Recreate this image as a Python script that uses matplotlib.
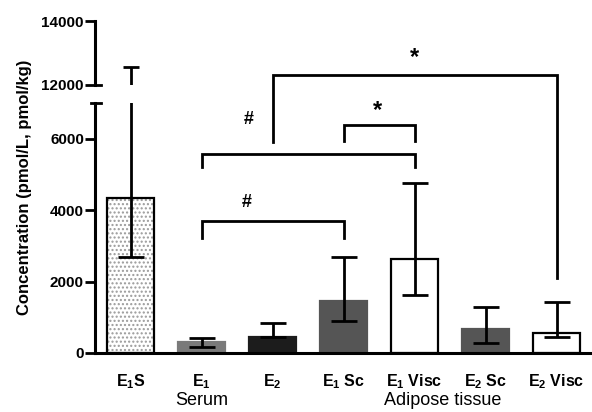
import numpy as np
import matplotlib
matplotlib.use('Agg')
import matplotlib.pyplot as plt

plt.rcParams['font.family'] = ['Liberation Sans', 'DejaVu Sans']
plt.rcParams['mathtext.fontset'] = 'custom'
plt.rcParams['mathtext.rm'] = 'Liberation Sans'
plt.rcParams['mathtext.bf'] = 'Liberation Sans:bold'
plt.rcParams['hatch.linewidth'] = 1.0

# ---- data ----
labels = [r'$\mathbf{E_1}$S', r'$\mathbf{E_1}$', r'$\mathbf{E_2}$', r'$\mathbf{E_1}$ Sc',
          r'$\mathbf{E_1}$ Visc', r'$\mathbf{E_2}$ Sc', r'$\mathbf{E_2}$ Visc']
means = [4350, 310, 450, 1460, 2640, 670, 560]
err_low = [2700, 170, 450, 900, 1630, 280, 450]
err_high = [12550, 420, 840, 2700, 4770, 1290, 1430]
fills = ['none', '#7a7a7a', '#1c1c1c', '#555555', 'white', '#555555', 'white']
edges = ['black', '#7a7a7a', '#1c1c1c', '#555555', 'black', '#555555', 'black']

# significance brackets: (x1, x2, y_bar, y_leg1, y_leg2)
brackets = [
    (1, 3, 3710, 3230, 3230),
    (1, 4, 5560, 5200, 5200),
    (3, 4, 6380, 5930, 5930),
    (2, 6, 7780, 5900, 2110),
]
marks = ['#', '#', '*', '*']
mark_x = [1.63, 1.66, 3.48, 4.0]
mark_y = [4210, 6545, 7100, 8590]
mark_size = [13, 13, 17, 17]

group_names = ['Serum', 'Adipose tissue']
group_x = [1.0, 4.4]

x = np.arange(len(means))
lo = np.array(means) - np.array(err_low)
hi = np.array(err_high) - np.array(means)

fig = plt.figure(figsize=(5.92, 4.12), dpi=100)
ax = fig.add_axes([95/592, 1-353/412, 497/592, 250/412])
ax_top = fig.add_axes([95/592, 1-85/412, 497/592, 64/412])

# bars
ax.bar(x[0], means[0], width=0.67, color='white', edgecolor='#9a9a9a', hatch='....', lw=0,
       zorder=1)
ax.bar(x, means, width=0.67, color=fills, edgecolor=edges, lw=1.6, zorder=2)

# error bars
ax.errorbar(x, means, yerr=[lo, hi], fmt='none', ecolor='black', elinewidth=2,
            capsize=9.5, capthick=2, zorder=4)
ax_top.errorbar(x[:1], means[:1], yerr=[lo[:1], hi[:1]], fmt='none', ecolor='black',
                elinewidth=2, capsize=6, capthick=2)

# brackets
for (x1, x2, yb, yl1, yl2) in brackets:
    ax.plot([x1, x1, x2, x2], [yl1, yb, yb, yl2], color='black', lw=2,
            clip_on=False, solid_joinstyle='miter', zorder=5)
for m, mx, my, ms in zip(marks, mark_x, mark_y, mark_size):
    va = 'top' if m == '*' else 'center'
    ax.text(mx, my, m, ha='center', va=va, fontsize=ms, fontweight='bold',
            clip_on=False)

# axes styling
ax.set_xlim(-0.5, 6.5)
ax.set_ylim(0, 7000)
ax.set_yticks([0, 2000, 4000, 6000])
ax.set_xticks(x)
ax.set_xticklabels(labels, fontsize=11.5, fontweight='bold')
ax.tick_params(axis='x', length=0, pad=14)
ax.tick_params(axis='y', length=7, width=2, labelsize=11, pad=1)
for t in ax.get_yticklabels():
    t.set_fontweight('bold')
for s in ['top', 'right']:
    ax.spines[s].set_visible(False)
ax.spines['left'].set_linewidth(2.2)
ax.spines['bottom'].set_linewidth(2.2)
ax.plot([-0.008, 0.012], [1, 1], transform=ax.transAxes, color='black', lw=2,
        clip_on=False)

ax_top.set_xlim(-0.5, 6.5)
ax_top.set_ylim(12000, 14000)
ax_top.set_yticks([12000, 14000])
ax_top.set_xticks([])
ax_top.tick_params(axis='y', length=7, width=2, labelsize=11, pad=1)
for t in ax_top.get_yticklabels():
    t.set_fontweight('bold')
for s in ['top', 'right', 'bottom']:
    ax_top.spines[s].set_visible(False)
ax_top.spines['left'].set_linewidth(2.2)
ax_top.patch.set_alpha(0)
ax_top.plot([0, 0.012], [0, 0], transform=ax_top.transAxes, color='black', lw=2,
            clip_on=False)

fig.text(25/592, 1-187/412, 'Concentration (pmol/L, pmol/kg)', rotation=90,
         ha='center', va='center', fontsize=12, fontweight='bold')

for g, gx in zip(group_names, group_x):
    ax.text(gx, -0.19, g, transform=ax.get_xaxis_transform(), ha='center',
            va='center', fontsize=13)

fig.savefig('out.png', dpi=100)
